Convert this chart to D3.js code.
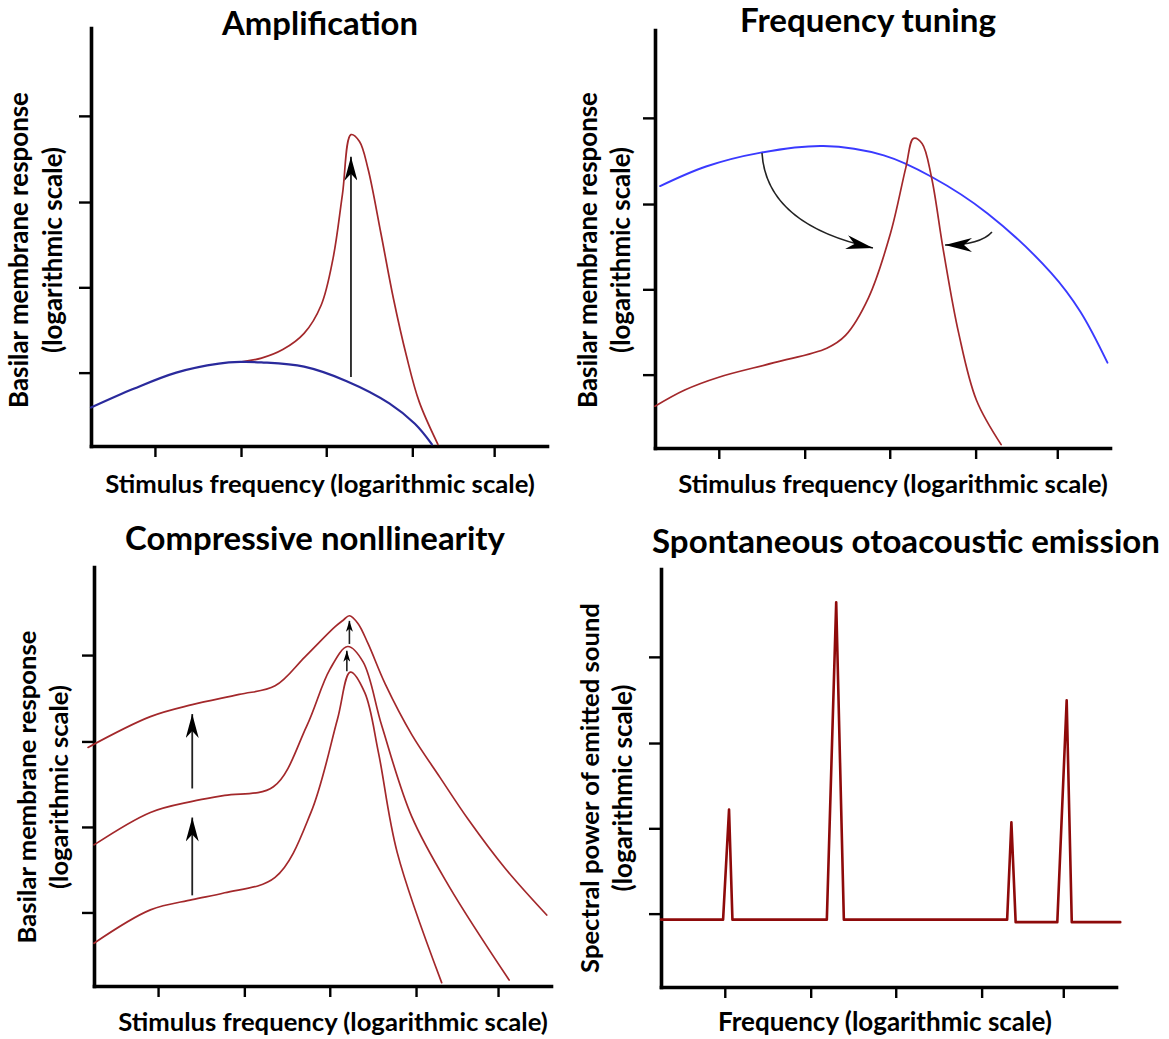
<!DOCTYPE html>
<html>
<head>
<meta charset="utf-8">
<script src="https://cdn.jsdelivr.net/npm/d3@7"></script>
<style>
  html, body { margin: 0; padding: 0; background: #ffffff; }
  svg text { font-family: Lato, "Open Sans", "DejaVu Sans", sans-serif; font-weight: 700; fill: #000; }
</style>
</head>
<body>
<svg id="chart" width="1169" height="1039"></svg>
<script>
// ---------------- DATA ----------------
const xTicks = [0.75, 1.76, 2.76, 3.77, 4.73];
const yTicks = [0.86, 1.86, 2.86, 3.87];

const titles = ["Amplification", "Frequency tuning", "Compressive nonllinearity", "Spontaneous otoacoustic emission"];
const xLabels = ["Stimulus frequency (logarithmic scale)", "Stimulus frequency (logarithmic scale)",
                 "Stimulus frequency (logarithmic scale)", "Frequency (logarithmic scale)"];
const yLabels = [["Basilar membrane response", "(logarithmic scale)"],
                 ["Basilar membrane response", "(logarithmic scale)"],
                 ["Basilar membrane response", "(logarithmic scale)"],
                 ["Spectral power of emitted sound", "(logarithmic scale)"]];

// Panel 1: Amplification
const ampPassive = [[0,0.45],[0.5,0.67],[1.0,0.86],[1.5,0.965],[1.75,0.985],[2.0,0.98],[2.5,0.93],
                    [3.0,0.76],[3.5,0.5],[3.8,0.26],[4.0,0.02]];
const ampActive = [[1.75,0.985],[2.0,1.03],[2.25,1.13],[2.5,1.32],[2.7,1.65],[2.84,2.2],[2.95,2.95],
                   [3.05,3.65],[3.15,3.57],[3.25,3.25],[3.4,2.5],[3.55,1.72],[3.7,1.06],[3.85,0.52],[4.07,0.02]];
const ampArrow = [[3.05,0.81],[3.05,3.39]];

// Panel 2: Frequency tuning
const tunePassive = [[0.06,3.07],[0.6,3.3],[1.23,3.46],[1.98,3.54],[2.69,3.43],[3.25,3.18],
                     [3.91,2.75],[4.66,2.05],[5.0,1.6],[5.32,1.0]];
const tuneActive = [[0.0,0.49],[0.35,0.68],[0.75,0.83],[1.4,1.0],[2.02,1.17],[2.24,1.32],[2.51,1.76],
                    [2.77,2.52],[2.95,3.29],[3.04,3.63],[3.14,3.57],[3.25,3.18],[3.39,2.32],
                    [3.57,1.35],[3.78,0.56],[4.07,0.04]];
// cubic arrows: start, control 1, control 2, tip
const tuneArrowA = [[1.258,3.458],[1.293,2.907],[1.705,2.532],[2.563,2.345]];
const tuneArrowB = [[3.962,2.532],[3.88,2.438],[3.704,2.38],[3.41,2.38]];

// Panel 3: Compressive nonlinearity
const compHigh = [[-0.07,2.79],[0.66,3.15],[1.15,3.29],[1.7,3.41],[2.12,3.51],[2.47,3.85],[2.82,4.2],
                  [2.92,4.28],[2.99,4.33],[3.09,4.24],[3.21,4.0],[3.41,3.53],[3.72,2.94],[4.05,2.44],
                  [4.38,1.95],[4.81,1.38],[5.3,0.83]];
const compMid = [[0.0,1.65],[0.66,2.03],[1.15,2.16],[1.53,2.23],[2.1,2.33],[2.49,3.04],[2.76,3.7],
                 [2.97,3.97],[3.15,3.79],[3.37,3.04],[3.72,1.98],[4.16,1.16],[4.86,0.07]];
const compLow = [[0.0,0.5],[0.66,0.89],[1.15,1.01],[1.53,1.09],[2.12,1.27],[2.54,2.03],[2.85,3.12],
                 [3.0,3.67],[3.17,3.43],[3.33,2.73],[3.55,1.56],[4.07,0.04]];
const compArrows = [[[1.15,2.31],[1.15,3.18]], [[1.15,1.06],[1.15,1.97]]];
const compSmallArrows = [[[2.99,4.0],[2.99,4.27]], [[2.96,3.68],[2.96,3.92]]];

// Panel 4: Spontaneous otoacoustic emission spectrum
const soaeSpectrum = [[0,0.79],[0.73,0.79],[0.80,2.08],[0.84,0.79],[1.95,0.79],[2.06,4.51],[2.15,0.79],
                      [4.07,0.79],[4.12,1.93],[4.17,0.76],[4.66,0.76],[4.77,3.36],[4.83,0.76],[5.4,0.76]];

// ---------------- LAYOUT ----------------
const X_MAX = 5.35, Y_MAX = 4.9;
const panels = [
  { left: 91,  right: 547,  bottom: 446, top: 28,
    title: {x: 320, y: 35, w: 196}, xl: {x: 320, y: 493, w: 430},
    yl: {x1: 28, x2: 62, cy: 250, w1: 316, w2: 206} },
  { left: 655, right: 1110, bottom: 448, top: 30,
    title: {x: 868, y: 32, w: 256}, xl: {x: 893, y: 493, w: 430},
    yl: {x1: 597, x2: 630, cy: 250, w1: 316, w2: 206} },
  { left: 94,  right: 551,  bottom: 986, top: 567,
    title: {x: 315, y: 550, w: 380}, xl: {x: 333, y: 1031, w: 430},
    yl: {x1: 36, x2: 68, cy: 787, w1: 313, w2: 204} },
  { left: 661, right: 1116, bottom: 987, top: 569,
    title: {x: 906, y: 553, w: 508}, xl: {x: 885, y: 1031, w: 334},
    yl: {x1: 599, x2: 632, cy: 788, w1: 370, w2: 207} }
];

const svg = d3.select("#chart");
const defs = svg.append("defs");

function addMarker(id, len, half, notch) {
  defs.append("marker")
    .attr("id", id)
    .attr("markerUnits", "userSpaceOnUse")
    .attr("viewBox", `${-len} ${-half} ${len + 1} ${half * 2}`)
    .attr("markerWidth", len + 1).attr("markerHeight", half * 2)
    .attr("refX", 0).attr("refY", 0)
    .attr("orient", "auto")
    .append("path")
    .attr("d", `M0,0 L${-len},${-half} L${-len + notch},0 L${-len},${half} Z`)
    .attr("fill", "#000");
}
addMarker("headBig", 24, 6.5, 7);
addMarker("headSmall", 11, 3.5, 3);
addMarker("headCurve", 27, 7, 8);

function fitText(sel, target) {
  sel.style("font-size", "100px");
  const len = sel.node().getComputedTextLength();
  sel.style("font-size", (100 * target / len) + "px");
}

function drawPanel(i) {
  const p = panels[i];
  const x = d3.scaleLinear().domain([0, X_MAX]).range([p.left, p.right]);
  const y = d3.scaleLinear().domain([0, Y_MAX]).range([p.bottom, p.top]);
  const g = svg.append("g");

  const xAxis = d3.axisBottom(x).tickValues(xTicks).tickSize(11).tickSizeOuter(0).tickFormat("");
  const yAxis = d3.axisLeft(y).tickValues(yTicks).tickSize(12).tickSizeOuter(0).tickFormat("");

  const gx = g.append("g").attr("transform", `translate(0,${p.bottom})`).call(xAxis);
  const gy = g.append("g").attr("transform", `translate(${p.left},0)`).call(yAxis);
  [gx, gy].forEach(a => {
    a.select(".domain").attr("stroke", "#000").attr("stroke-width", 3.6).attr("stroke-linecap", "square");
    a.selectAll(".tick line").attr("stroke", "#000").attr("stroke-width", 2.4);
  });

  const t = g.append("text").attr("x", p.title.x).attr("y", p.title.y)
    .attr("text-anchor", "middle").text(titles[i]);
  fitText(t, p.title.w);
  const xl = g.append("text").attr("x", p.xl.x).attr("y", p.xl.y)
    .attr("text-anchor", "middle").text(xLabels[i]);
  fitText(xl, p.xl.w);
  const y1 = g.append("text").attr("transform", `translate(${p.yl.x1},${p.yl.cy}) rotate(-90)`)
    .attr("text-anchor", "middle").text(yLabels[i][0]);
  fitText(y1, p.yl.w1);
  const y2 = g.append("text").attr("transform", `translate(${p.yl.x2},${p.yl.cy}) rotate(-90)`)
    .attr("text-anchor", "middle").text(yLabels[i][1]);
  fitText(y2, p.yl.w2);

  return {g, x, y};
}

const SMOOTH = d3.curveCatmullRom.alpha(0.5);

function curve(ctx, data, color, width, curveType) {
  const line = d3.line().x(d => ctx.x(d[0])).y(d => ctx.y(d[1])).curve(curveType || SMOOTH);
  ctx.g.append("path").datum(data).attr("d", line)
    .attr("fill", "none").attr("stroke", color).attr("stroke-width", width)
    .attr("stroke-linejoin", "round").attr("stroke-linecap", "round");
}
function arrow(ctx, data, marker, width) {
  const line = d3.line().x(d => ctx.x(d[0])).y(d => ctx.y(d[1]));
  ctx.g.append("path").datum(data).attr("d", line)
    .attr("fill", "none").attr("stroke", "#222").attr("stroke-width", width)
    .attr("marker-end", `url(#${marker})`);
}
function cubicArrow(ctx, pts, marker, width) {
  const p = d3.path();
  const P = pts.map(d => [ctx.x(d[0]), ctx.y(d[1])]);
  p.moveTo(P[0][0], P[0][1]);
  p.bezierCurveTo(P[1][0], P[1][1], P[2][0], P[2][1], P[3][0], P[3][1]);
  ctx.g.append("path").attr("d", p.toString())
    .attr("fill", "none").attr("stroke", "#222").attr("stroke-width", width)
    .attr("marker-end", `url(#${marker})`);
}

const RED = "#a3282b";

// Panel 1
const c1 = drawPanel(0);
curve(c1, ampActive, RED, 1.7);
curve(c1, ampPassive, "#2a2a9c", 2.2);
arrow(c1, ampArrow, "headBig", 1.8);

// Panel 2
const c2 = drawPanel(1);
curve(c2, tunePassive, "#3a3aff", 1.9);
curve(c2, tuneActive, RED, 1.7);
cubicArrow(c2, tuneArrowA, "headCurve", 1.6);
cubicArrow(c2, tuneArrowB, "headCurve", 1.6);

// Panel 3
const c3 = drawPanel(2);
curve(c3, compHigh, RED, 1.7);
curve(c3, compMid, RED, 1.7);
curve(c3, compLow, RED, 1.7);
compArrows.forEach(a => arrow(c3, a, "headBig", 1.8));
compSmallArrows.forEach(a => arrow(c3, a, "headSmall", 1.6));

// Panel 4
const c4 = drawPanel(3);
curve(c4, soaeSpectrum, "#8e0a0a", 2.6, d3.curveLinear);
</script>
</body>
</html>
